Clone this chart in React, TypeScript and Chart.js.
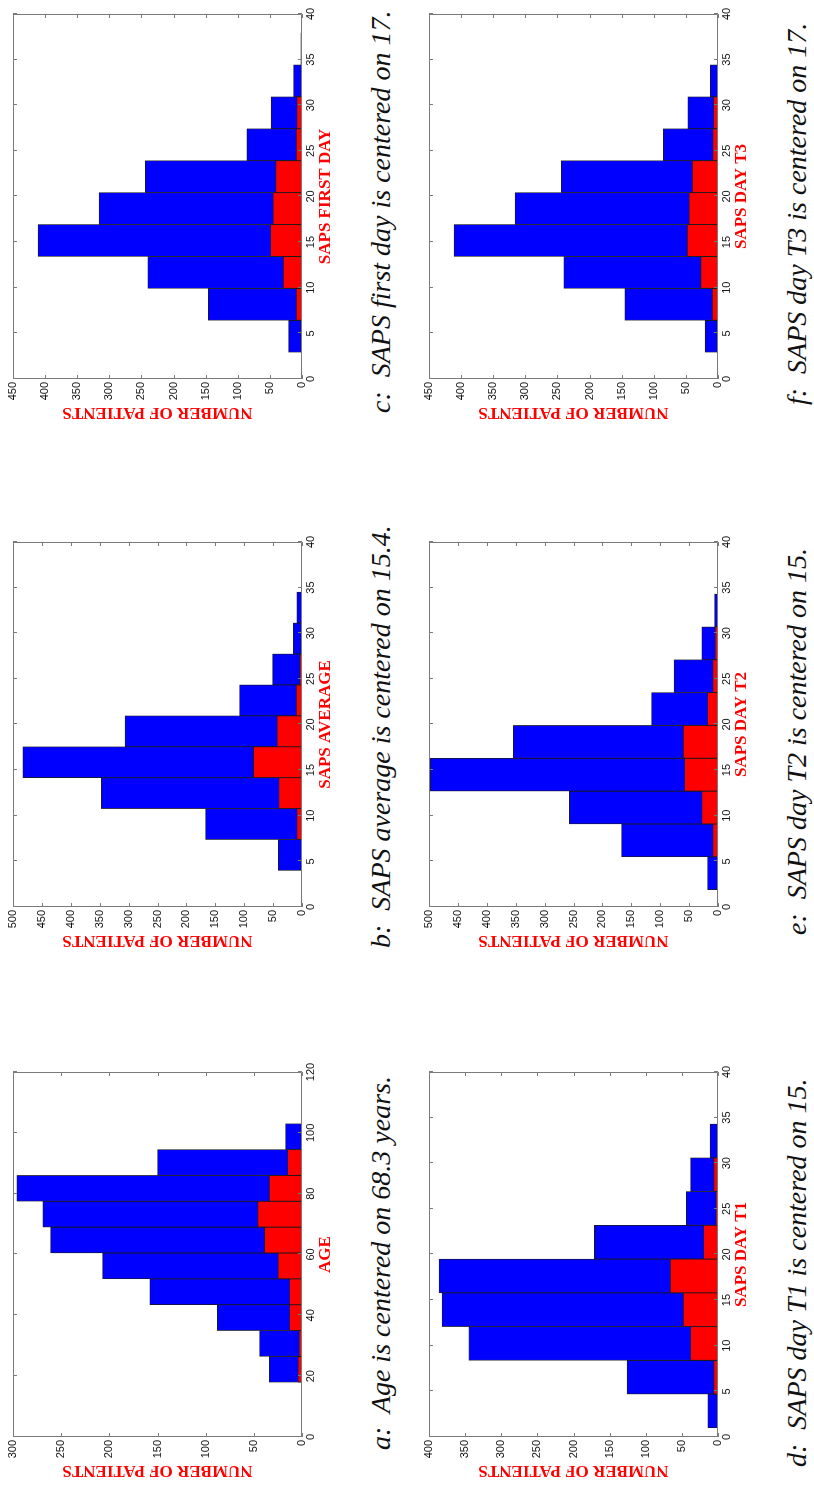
import React, { useEffect, useRef } from 'react';
import { Chart, registerables } from 'chart.js';

Chart.register(...registerables);

// ---------- data (bin centers, all patients, deceased patients) ----------
const ageCenters = [22.25, 30.75, 39.25, 47.75, 56.25, 64.75, 73.25, 81.75, 90.25, 98.75];
const ageAll = [34, 44, 88, 158, 207, 261, 269, 296, 150, 17];
const ageDead = [4, 3, 13, 13, 25, 39, 46, 34, 15, 0];

const avgCenters = [5.7, 9.09, 12.48, 15.87, 19.26, 22.65, 26.04, 29.43, 32.82, 36.21];
const avgAll = [41, 167, 347, 483, 306, 108, 51, 15, 9, 1];
const avgDead = [0, 9, 40, 84, 43, 10, 4, 2, 0, 0];

const firstCenters = [4.68, 8.18, 11.68, 15.18, 18.68, 22.18, 25.68, 29.18, 32.68, 36.18];
const firstAll = [21, 146, 240, 411, 316, 244, 86, 48, 13, 2];
const firstDead = [2, 9, 29, 49, 45, 41, 9, 8, 0, 0];

const t1Centers = [2.85, 6.55, 10.25, 13.95, 17.65, 21.35, 25.05, 28.75, 32.45, 36.15];
const t1All = [14, 126, 345, 382, 386, 171, 44, 38, 11, 1];
const t1Dead = [0, 6, 38, 48, 66, 20, 3, 6, 0, 0];

const t2Centers = [3.7, 7.3, 10.9, 14.5, 18.1, 21.7, 25.3, 28.9, 32.5, 36.1];
const t2All = [18, 167, 257, 498, 354, 115, 76, 28, 6, 1];
const t2Dead = [0, 9, 28, 58, 60, 18, 9, 5, 0, 0];

const t3Centers = [4.68, 8.18, 11.68, 15.18, 18.68, 22.18, 25.68, 29.18, 32.68, 36.18];
const t3All = [20, 145, 240, 411, 316, 244, 85, 47, 12, 1];
const t3Dead = [2, 9, 27, 48, 45, 40, 8, 7, 0, 0];

const yTitle = 'NUMBER OF PATIENTS';

// ---------- layout (landscape coordinates, the figure is rotated -90deg) ----------
const PLOT_W = 365;
const PLOT_H = 289;
const AX_Y = 49;
const PAD_TOP = 13;
const PAD_RIGHT = 20;
const AX_X = 40;

type Panel = {
  centers: number[];
  all: number[];
  dead: number[];
  xMax: number;
  xStep: number;
  yMax: number;
  xTitle: string;
  plotLeft: number;
  plotTop: number;
  caption: string;
  capLeft: number;
  capTop: number;
};

const panels: Panel[] = [
  { centers: ageCenters, all: ageAll, dead: ageDead, xMax: 120, xStep: 20, yMax: 300, xTitle: 'AGE', plotLeft: 49, plotTop: 13, caption: 'a:  Age is centered on 68.3 years.', capLeft: 36, capTop: 367 },
  { centers: avgCenters, all: avgAll, dead: avgDead, xMax: 40, xStep: 5, yMax: 500, xTitle: 'SAPS AVERAGE', plotLeft: 579, plotTop: 13, caption: 'b:  SAPS average is centered on 15.4.', capLeft: 538, capTop: 367 },
  { centers: firstCenters, all: firstAll, dead: firstDead, xMax: 40, xStep: 5, yMax: 450, xTitle: 'SAPS FIRST DAY', plotLeft: 1107, plotTop: 13, caption: 'c:  SAPS first day is centered on 17.', capLeft: 1073, capTop: 367 },
  { centers: t1Centers, all: t1All, dead: t1Dead, xMax: 40, xStep: 5, yMax: 400, xTitle: 'SAPS DAY T1', plotLeft: 49, plotTop: 429, caption: 'd:  SAPS day T1 is centered on 15.', capLeft: 19, capTop: 783 },
  { centers: t2Centers, all: t2All, dead: t2Dead, xMax: 40, xStep: 5, yMax: 500, xTitle: 'SAPS DAY T2', plotLeft: 579, plotTop: 429, caption: 'e:  SAPS day T2 is centered on 15.', capLeft: 551, capTop: 783 },
  { centers: t3Centers, all: t3All, dead: t3Dead, xMax: 40, xStep: 5, yMax: 450, xTitle: 'SAPS DAY T3', plotLeft: 1107, plotTop: 429, caption: 'f:  SAPS day T3 is centered on 17.', capLeft: 1081, capTop: 783 },
];

const boxPlugin = {
  id: 'matlabBox',
  afterDatasetsDraw(chart: any) {
    const { ctx, chartArea } = chart;
    const { left, right, top, bottom } = chartArea;
    const xs = chart.scales.x;
    const ys = chart.scales.y;
    const TL = 4;
    ctx.save();
    ctx.strokeStyle = '#7a7a7a';
    ctx.lineWidth = 1;
    ctx.beginPath();
    ctx.rect(Math.round(left) + 0.5, Math.round(top) + 0.5, Math.round(right - left) - 1, Math.round(bottom - top) - 1);
    for (const t of xs.ticks) {
      const px = Math.round(xs.getPixelForValue(t.value)) + 0.5;
      ctx.moveTo(px, bottom);
      ctx.lineTo(px, bottom - TL);
      ctx.moveTo(px, top);
      ctx.lineTo(px, top + TL);
    }
    for (const t of ys.ticks) {
      const py = Math.round(ys.getPixelForValue(t.value)) + 0.5;
      ctx.moveTo(left, py);
      ctx.lineTo(left + TL, py);
      ctx.moveTo(right, py);
      ctx.lineTo(right - TL, py);
    }
    ctx.stroke();
    ctx.restore();
  },
};

function Hist({ p }: { p: Panel }) {
  const ref = useRef<HTMLCanvasElement | null>(null);
  const W = AX_Y + PLOT_W + PAD_RIGHT;
  const H = PAD_TOP + PLOT_H + AX_X;
  useEffect(() => {
    if (!ref.current) return;
    const tickFont = { family: "'Liberation Sans', Arial, sans-serif", size: 11 };
    const titleFont = { family: "'Liberation Serif', 'Times New Roman', serif", size: 17, weight: 'bold' as const };
    const chart = new Chart(ref.current, {
      type: 'bar',
      data: {
        datasets: [
          {
            data: p.centers.map((c, i) => ({ x: c, y: p.dead[i] })),
            backgroundColor: '#ff0000',
            borderColor: '#1a1a1a',
            borderWidth: 0.8,
            grouped: false,
            order: 0,
            barPercentage: 1,
            categoryPercentage: 1,
          } as any,
          {
            data: p.centers.map((c, i) => ({ x: c, y: p.all[i] })),
            backgroundColor: '#0000ff',
            borderColor: '#1a1a1a',
            borderWidth: 0.8,
            grouped: false,
            order: 1,
            barPercentage: 1,
            categoryPercentage: 1,
          } as any,
        ],
      },
      options: {
        animation: false,
        responsive: false,
        events: [],
        layout: { padding: { left: 0, top: PAD_TOP, right: PAD_RIGHT, bottom: 0 } },
        plugins: { legend: { display: false }, tooltip: { enabled: false } },
        scales: {
          x: {
            type: 'linear',
            min: 0,
            max: p.xMax,
            offset: false,
            grid: { display: false, drawTicks: false, offset: false },
            border: { display: false },
            ticks: { stepSize: p.xStep, autoSkip: false, maxRotation: 0, padding: 2, color: '#111', font: tickFont },
            title: { display: true, text: p.xTitle, color: '#ff0000', font: titleFont, padding: { top: 0, bottom: 6 } },
            afterFit: (s: any) => { s.height = AX_X; },
          },
          y: {
            type: 'linear',
            min: 0,
            max: p.yMax,
            grid: { display: false, drawTicks: false },
            border: { display: false },
            ticks: { stepSize: 50, autoSkip: false, padding: 3, color: '#111', font: tickFont },
            title: { display: true, text: yTitle, color: '#ff0000', font: titleFont, padding: { top: 5, bottom: 0 } },
            afterFit: (s: any) => { s.width = AX_Y; },
          },
        } as any,
      },
      plugins: [boxPlugin],
    });
    return () => chart.destroy();
  }, [p]);
  return (
    <canvas
      ref={ref}
      width={W}
      height={H}
      style={{ position: 'absolute', left: p.plotLeft - AX_Y, top: p.plotTop - PAD_TOP, width: W, height: H }}
    />
  );
}

export default function App() {
  return (
    <div
      style={{
        position: 'absolute',
        left: 0,
        top: 0,
        width: 1486,
        height: 814,
        overflow: 'hidden',
        background: '#fff',
        transformOrigin: '0 0',
        transform: 'translate(0px, 1486px) rotate(-90deg)',
      }}
    >
      {panels.map((p, i) => (
        <Hist key={i} p={p} />
      ))}
      {panels.map((p, i) => (
        <div
          key={'c' + i}
          style={{
            position: 'absolute',
            left: p.capLeft,
            top: p.capTop,
            fontFamily: "'Liberation Serif', 'Times New Roman', serif",
            fontStyle: 'italic',
            fontSize: 28,
            lineHeight: '28px',
            whiteSpace: 'pre',
            color: '#111',
          }}
        >
          {p.caption}
        </div>
      ))}
    </div>
  );
}
